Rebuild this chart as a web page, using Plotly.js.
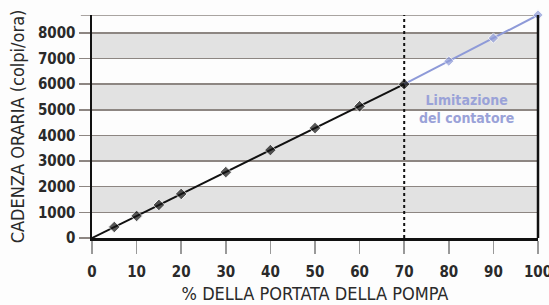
<!DOCTYPE html>
<html>
<head>
<meta charset="utf-8">
<script src="https://cdn.plot.ly/plotly-3.0.1.min.js"></script>
<style>html,body{margin:0;padding:0;background:#fdfdfd;}#chart{width:549px;height:305px;}</style>
</head>
<body>
<div id="chart"></div>
<script>
// Data
const pctMain = [0, 5, 10, 15, 20, 30, 40, 50, 60, 70];
const rateMain = [0, 430, 860, 1290, 1720, 2570, 3430, 4290, 5140, 6000];
const pctLimit = [70, 80, 90, 100];
const rateLimit = [6000, 6900, 7800, 8700];
const xTicks = [0, 10, 20, 30, 40, 50, 60, 70, 80, 90, 100];
const yTicks = [0, 1000, 2000, 3000, 4000, 5000, 6000, 7000, 8000];
const grayBandStarts = [1000, 3000, 5000, 7000];
const bandHeight = 1000;
const yMax = 8700;
const limitX = 70;
const xTitle = '% DELLA PORTATA DELLA POMPA';
const yTitle = 'CADENZA ORARIA (colpi/ora)';
const noteText = 'Limitazione<br>del contatore';

const gridColor = '#8d8682';
const fam = '"DejaVu Sans Condensed", "DejaVu Sans", sans-serif';
const tickFont = {family: fam, size: 15, color: '#2a2a2a', weight: 'bold', stretch: 'condensed'};
const titleFont = {family: fam, size: 18, color: '#2a2a2a', stretch: 'condensed'};

const shapes = [];
grayBandStarts.forEach(b => shapes.push({type: 'rect', xref: 'x', yref: 'y', x0: 0, x1: 100, y0: b, y1: b + bandHeight, fillcolor: '#e2e2e2', line: {width: 0}, layer: 'below'}));
// top frame gridline
shapes.push({type: 'line', xref: 'paper', yref: 'y', x0: -0.025, x1: 1, y0: yMax, y1: yMax, line: {color: gridColor, width: 1.5}, layer: 'below'});
// right black border
shapes.push({type: 'line', xref: 'paper', yref: 'paper', x0: 1, x1: 1, y0: 0, y1: 1, line: {color: '#111', width: 2.5}});
// dotted limit line
shapes.push({type: 'line', xref: 'x', yref: 'paper', x0: limitX, x1: limitX, y0: 0, y1: 1, line: {color: '#111', width: 2, dash: 'dot'}});

const traces = [
  {x: pctLimit, y: rateLimit, mode: 'lines+markers', line: {color: '#8e9ad8', width: 2},
   marker: {symbol: 'diamond', size: pctLimit.map(p => p === limitX ? 0 : 8), color: '#8e9ad8'}, hoverinfo: 'skip', cliponaxis: false},
  {x: pctMain, y: rateMain, mode: 'lines+markers', line: {color: '#111', width: 2},
   marker: {symbol: 'diamond', size: pctMain.map(p => p === 0 ? 0 : 9), color: '#111'}, hoverinfo: 'skip', cliponaxis: false}
];

const layout = {
  width: 549, height: 305,
  margin: {l: 92, r: 11, t: 15, b: 67},
  paper_bgcolor: '#fdfdfd', plot_bgcolor: '#fdfdfd',
  showlegend: false,
  xaxis: {range: [0, 100], tickvals: xTicks, ticktext: xTicks.map(String), showgrid: false, zeroline: false,
    showline: true, linecolor: '#111', linewidth: 2.5, ticks: 'outside', ticklen: 13, tickwidth: 1.5, tickcolor: '#999',
    ticklabeloverflow: 'allow', ticklabelstandoff: 5,
    tickfont: tickFont, title: {text: xTitle, font: titleFont, standoff: 8}, fixedrange: true},
  yaxis: {range: [0, yMax], tickvals: yTicks, ticktext: yTicks.map(String), showgrid: true, gridcolor: gridColor, gridwidth: 1.5,
    zeroline: false, showline: true, linecolor: '#111', linewidth: 2.5, ticks: 'outside', ticklen: 11, tickwidth: 1.5, tickcolor: gridColor,
    tickfont: tickFont, title: {text: yTitle, font: titleFont, standoff: 9}, fixedrange: true},
  shapes: shapes,
  annotations: [{xref: 'x', yref: 'y', x: 84, y: 5050, text: noteText, showarrow: false,
    font: {family: fam, size: 14, color: '#9aa2d8', weight: 'bold', stretch: 'condensed'}, align: 'center'}]
};

Plotly.newPlot('chart', traces, layout, {staticPlot: true, displayModeBar: false});
</script>
</body>
</html>
